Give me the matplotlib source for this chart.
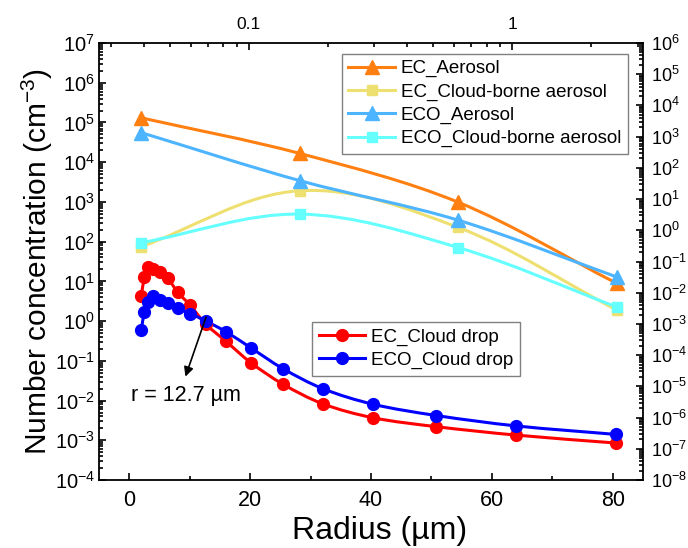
import numpy as np
import matplotlib
matplotlib.use("Agg")
import matplotlib.pyplot as plt
from matplotlib.path import Path
from matplotlib.patches import PathPatch
from matplotlib.lines import Line2D
from matplotlib.ticker import (LogLocator, NullFormatter, FixedLocator,
                               FixedFormatter, MultipleLocator)

plt.rcParams['font.family'] = ['Liberation Sans', 'DejaVu Sans']
plt.rcParams['mathtext.fontset'] = 'custom'
plt.rcParams['mathtext.rm'] = 'Liberation Sans'
plt.rcParams['mathtext.default'] = 'regular'

# cloud drop bins (bottom / left axes)
drop_radius = [2.0, 2.52, 3.17, 4.0, 5.04, 6.35, 8.0, 10.08, 12.7, 16.0,
               20.16, 25.4, 32.0, 40.3, 50.8, 64.0, 80.6]
ec_drop = [4.3, 12.6, 23, 20, 17, 12, 5.4, 2.5, 0.83, 0.31, 0.089, 0.026,
           0.0083, 0.0037, 0.0022, 0.00135, 0.00085]
eco_drop = [0.59, 1.7, 3.0, 4.3, 3.4, 2.9, 2.1, 1.55, 1.0, 0.54, 0.21, 0.064,
            0.020, 0.0081, 0.0042, 0.0023, 0.0014]

# aerosol bins (top / right axes)
aer_radius = [0.039, 0.156, 0.625, 2.5]
ec_aer = [4000, 290, 7.9, 0.020]
ec_cloudborne = [0.30, 18.5, 1.23, 0.0028]
eco_aer = [1340, 39, 2.1, 0.032]
eco_cloudborne = [0.40, 3.3, 0.28, 0.0035]

XLIM = (-5, 85)
YLIM = (1e-4, 1e7)
XLIM_TOP = (10 ** -1.570, 10 ** 0.498)
YLIM_RIGHT = (1e-8, 1e6)


def smooth_curve(ax, xs, ys, xlim, ylim, xlog, color):
    # smooth line through the points, built in screen-like coordinates
    W, H = 544.0, 437.0
    xs = np.asarray(xs, float)
    ys = np.asarray(ys, float)
    if xlog:
        u = (np.log10(xs) - np.log10(xlim[0])) / np.log10(xlim[1] / xlim[0]) * W
    else:
        u = (xs - xlim[0]) / (xlim[1] - xlim[0]) * W
    v = (np.log10(ys) - np.log10(ylim[0])) / np.log10(ylim[1] / ylim[0]) * H
    P = np.column_stack([u, v])
    n = len(P)
    T = []
    for i in range(n):
        if i == 0:
            d = P[1] - P[0]
        elif i == n - 1:
            d = P[-1] - P[-2]
        else:
            d = P[i + 1] - P[i - 1]
        T.append(d / np.hypot(*d))
    pts = [P[0]]
    codes = [Path.MOVETO]
    for i in range(n - 1):
        L = np.hypot(*(P[i + 1] - P[i]))
        pts += [P[i] + T[i] * L / 3, P[i + 1] - T[i + 1] * L / 3, P[i + 1]]
        codes += [Path.CURVE4] * 3
    pts = np.array(pts)
    if xlog:
        px = 10 ** (pts[:, 0] / W * np.log10(xlim[1] / xlim[0]) + np.log10(xlim[0]))
    else:
        px = pts[:, 0] / W * (xlim[1] - xlim[0]) + xlim[0]
    py = 10 ** (pts[:, 1] / H * np.log10(ylim[1] / ylim[0]) + np.log10(ylim[0]))
    patch = PathPatch(Path(np.column_stack([px, py]), codes), fill=False,
                      edgecolor=color, lw=2.2, transform=ax.transData, zorder=2)
    ax.add_patch(patch)


fig = plt.figure(figsize=(6.88, 5.48), dpi=100)
rect = [0.1439, 0.1241, 0.7907, 0.7974]
ax = fig.add_axes(rect)
ax2 = fig.add_axes(rect, frameon=False)

# bottom / left: cloud drops
ax.set_xlim(*XLIM)
ax.set_yscale('log')
ax.set_ylim(*YLIM)
for ys, color, name in [(ec_drop, '#FF0000', 'EC_Cloud drop'),
                        (eco_drop, '#0000FF', 'ECO_Cloud drop')]:
    smooth_curve(ax, drop_radius, ys, XLIM, YLIM, False, color)
    ax.plot(drop_radius, ys, ls='none', marker='o', ms=8.5, color=color, zorder=3)

# top / right: aerosols
ax2.set_xscale('log')
ax2.set_yscale('log')
ax2.set_xlim(*XLIM_TOP)
ax2.set_ylim(*YLIM_RIGHT)
aer_series = [(ec_aer, '#FF7F10', '^', 'EC_Aerosol'),
              (ec_cloudborne, '#EEE070', 's', 'EC_Cloud-borne aerosol'),
              (eco_aer, '#4DB4FF', '^', 'ECO_Aerosol'),
              (eco_cloudborne, '#66FFFF', 's', 'ECO_Cloud-borne aerosol')]
for ys, color, mk, name in aer_series:
    smooth_curve(ax2, aer_radius, ys, XLIM_TOP, YLIM_RIGHT, True, color)
    ax2.plot(aer_radius, ys, ls='none', marker=mk, ms=9.5 if mk == '^' else 7.5,
             color=color, zorder=3)

# ticks
ax.xaxis.set_major_locator(MultipleLocator(20))
ax.xaxis.set_minor_locator(MultipleLocator(10))
ax.yaxis.set_major_locator(LogLocator(base=10, numticks=30))
ax.yaxis.set_minor_locator(LogLocator(base=10, subs=np.arange(2, 10), numticks=30))
ax.yaxis.set_minor_formatter(NullFormatter())
ax.tick_params(which='both', direction='in', top=False, right=False, width=1.2)
ax.tick_params(which='major', length=5)
ax.tick_params(which='minor', length=3)
ax.tick_params(axis='x', labelsize=15.5, pad=7)
ax.tick_params(axis='y', labelsize=14.5, pad=3)

ax2.xaxis.tick_top()
ax2.yaxis.tick_right()
ax2.xaxis.set_major_locator(FixedLocator([0.1, 1]))
ax2.xaxis.set_major_formatter(FixedFormatter(['0.1', '1']))
ax2.xaxis.set_minor_locator(LogLocator(base=10, subs=np.arange(2, 10), numticks=30))
ax2.xaxis.set_minor_formatter(NullFormatter())
ax2.yaxis.set_major_locator(LogLocator(base=10, numticks=30))
ax2.yaxis.set_minor_locator(LogLocator(base=10, subs=np.arange(2, 10), numticks=30))
ax2.yaxis.set_minor_formatter(NullFormatter())
ax2.tick_params(which='both', direction='in', width=1.2)
ax2.tick_params(which='major', length=5)
ax2.tick_params(which='minor', length=3)
ax2.tick_params(axis='x', labelsize=12.5, pad=8)
ax2.tick_params(axis='y', labelsize=13, pad=6)

for sp in ax.spines.values():
    sp.set_linewidth(1.3)

ax.set_xlabel('Radius (µm)', fontsize=23, labelpad=4)
ax.xaxis.label.set_x(0.515)
ax.set_ylabel('Number concentration (cm$^{-3}$)', fontsize=21.5, labelpad=0)

# annotation at the crossing
ax.annotate('', xy=(9.3, 0.04), xytext=(12.7, 1.25),
            arrowprops=dict(arrowstyle='-|>', color='black', lw=1.2,
                            shrinkA=0, shrinkB=0, mutation_scale=14))
ax.text(9.3, 0.0135, 'r = 12.7 µm', ha='center', va='center', fontsize=15.5)

# legends
aer_handles = [Line2D([], [], color=c, lw=2.2, marker=m, ms=9.5 if m == '^' else 7.5)
               for _, c, m, _ in aer_series]
leg1 = ax2.legend(aer_handles, [s[3] for s in aer_series], loc='upper right',
                  bbox_to_anchor=(0.972, 0.976), borderaxespad=0, fontsize=13.5,
                  fancybox=False, edgecolor='#808080', framealpha=1,
                  handlelength=2.5, handletextpad=0.3, labelspacing=0.32,
                  borderpad=0.35)
leg1.get_frame().set_linewidth(1.0)

drop_handles = [Line2D([], [], color='#FF0000', lw=2.2, marker='o', ms=8.5),
                Line2D([], [], color='#0000FF', lw=2.2, marker='o', ms=8.5)]
leg2 = ax.legend(drop_handles, ['EC_Cloud drop', 'ECO_Cloud drop'],
                 loc='upper left', bbox_to_anchor=(0.3915, 0.3616),
                 borderaxespad=0, fontsize=13.5, fancybox=False,
                 edgecolor='#808080', framealpha=1, handlelength=2.5,
                 handletextpad=0.3, labelspacing=0.32, borderpad=0.35)
leg2.get_frame().set_linewidth(1.0)

fig.savefig('out.png', dpi=100)
